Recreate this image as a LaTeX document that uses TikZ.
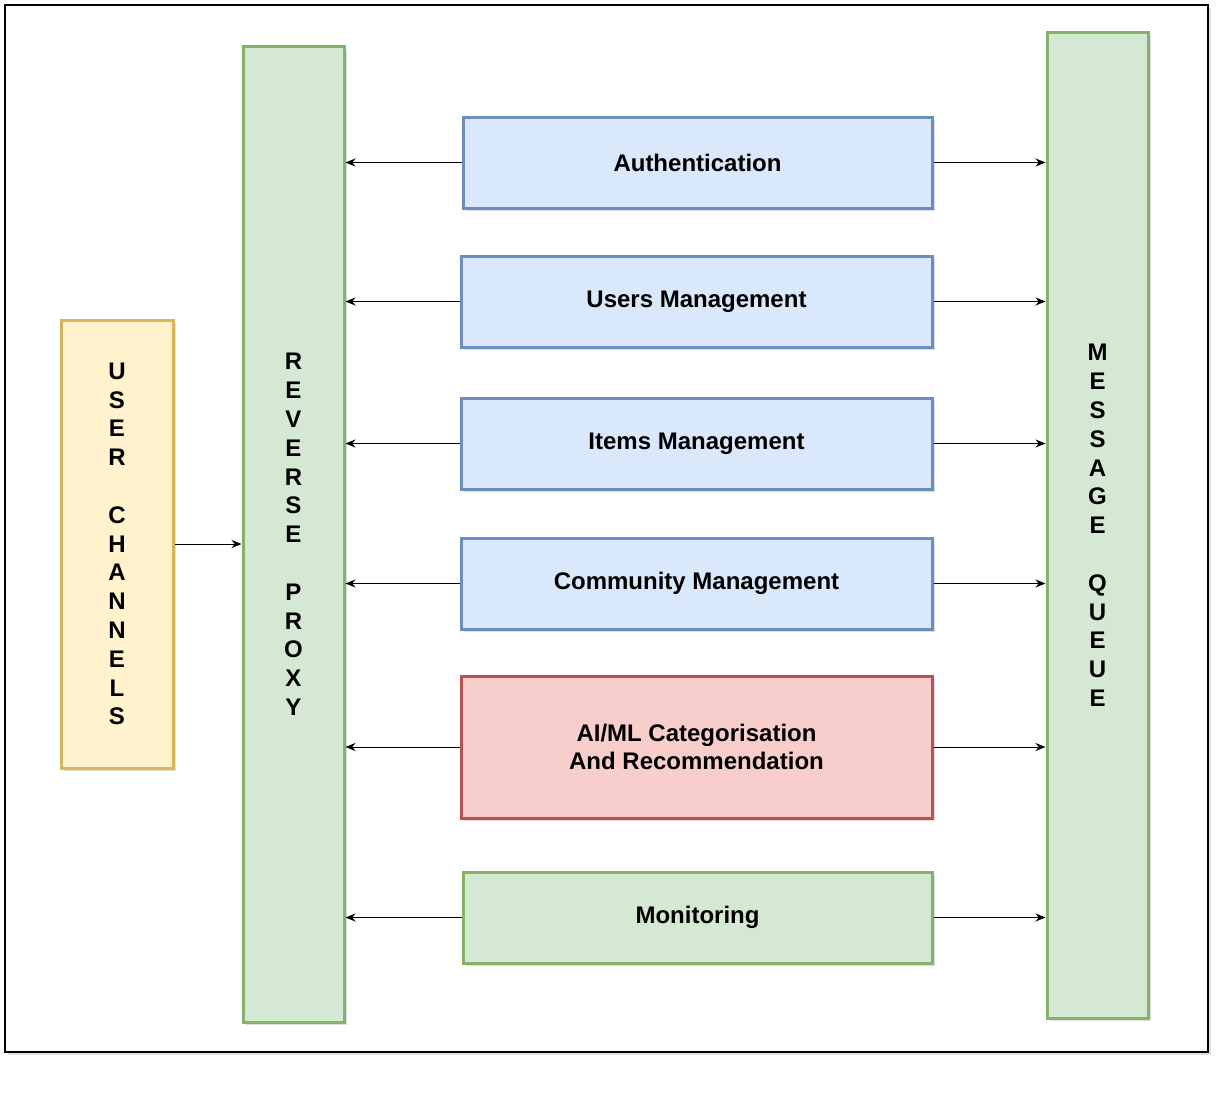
\documentclass[tikz,border=0pt]{standalone}
\usepackage{fontspec}
\setmainfont{Liberation Sans}
\usetikzlibrary{arrows.meta,shadows}
\definecolor{blueFill}{HTML}{DAE8FC}
\definecolor{blueLine}{HTML}{6C8EBF}
\definecolor{greenFill}{HTML}{D5E8D4}
\definecolor{greenLine}{HTML}{82B366}
\definecolor{redFill}{HTML}{F8CECC}
\definecolor{redLine}{HTML}{B85450}
\definecolor{yellowFill}{HTML}{FFF2CC}
\definecolor{yellowLine}{HTML}{D6B656}
\begin{document}
\begin{tikzpicture}[x=1pt,y=-1pt,>={Stealth[length=10pt,width=8pt]},
  font=\bfseries\fontsize{24}{28.8}\selectfont,
  box/.style={draw,line width=3pt,inner sep=0pt,align=center,
    drop shadow={opacity=.25,shadow xshift=3pt,shadow yshift=-3pt}},
  svcbox/.style={box,fill=blueFill,draw=blueLine,minimum width=471pt,minimum height=91pt},
  bar/.style={box,fill=greenFill,draw=greenLine,minimum width=101pt},
  link/.style={->,line width=1pt}]
  \useasboundingbox (0,0) rectangle (1226,1108);
  \draw[line width=1.5pt,drop shadow={opacity=.25,shadow xshift=3pt,shadow yshift=-3pt},fill=white]
    (5,5) rectangle (1208,1052);
  % side columns
  \node[box,fill=yellowFill,draw=yellowLine,minimum width=112pt,minimum height=448pt]
    (users) at (117,544) {U\\S\\E\\R\\~\\C\\H\\A\\N\\N\\E\\L\\S};
  \node[bar,minimum height=975pt] (proxy) at (293.5,534.5)
    {R\\E\\V\\E\\R\\S\\E\\~\\P\\R\\O\\X\\Y};
  \node[bar,minimum height=985pt] (queue) at (1097.5,525.5)
    {M\\E\\S\\S\\A\\G\\E\\~\\Q\\U\\E\\U\\E};
  % services
  \node[svcbox,minimum width=469pt] (auth) at (697.5,162.5) {Authentication};
  \node[svcbox] (umgmt) at (696.5,301.5) {Users Management};
  \node[svcbox] (imgmt) at (696.5,443.5) {Items Management};
  \node[svcbox] (cmgmt) at (696.5,583.5) {Community Management};
  \node[svcbox,fill=redFill,draw=redLine,minimum height=142pt] (aiml) at (696.5,747)
    {AI/ML Categorisation\\And Recommendation};
  \node[svcbox,fill=greenFill,draw=greenLine,minimum width=469pt] (monit) at (697.5,917.5) {Monitoring};
  % connectors
  \draw[link] (users.east) -- (users.east -| proxy.west);
  \foreach \s in {auth,umgmt,imgmt,cmgmt,aiml,monit}{
    \draw[link] (\s.west) -- (\s.west -| proxy.east);
    \draw[link] (\s.east) -- (\s.east -| queue.west);
  }
\end{tikzpicture}
\end{document}
